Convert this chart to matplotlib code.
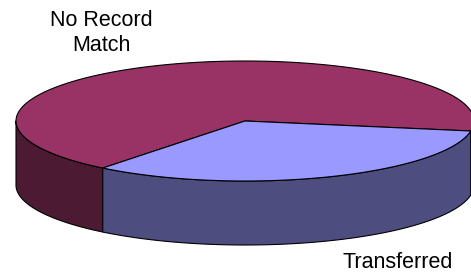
import numpy as np
import matplotlib.pyplot as plt
from matplotlib.patches import Polygon

# slice data
labels = ['No Record\nMatch', 'Transferred']
values = [67, 33]
top_colors = ['#993366', '#9999FF']
side_colors = ['#4D1A33', '#4D4D80']

# pie geometry in pixel space
cx, cy = 245, 121
rx, ry = 229, 60
depth = 64
start = -9.6  # degrees, counter-clockwise

plt.rcParams['font.family'] = ['Liberation Sans', 'DejaVu Sans']

fig = plt.figure(figsize=(4.71, 2.78), dpi=100)
ax = fig.add_axes([0, 0, 1, 1])
ax.set_xlim(0, 471)
ax.set_ylim(278, 0)
ax.axis('off')


def rim(t0, t1, dy=0, n=200):
    t = np.radians(np.linspace(t0, t1, n))
    return np.column_stack([cx + rx * np.cos(t), cy - ry * np.sin(t) + dy])


fracs = np.array(values) / np.sum(values)
edges = start + 360 * np.concatenate([[0], np.cumsum(fracs)])

# side walls (front half only: 180..360 deg)
for i in range(len(values)):
    t0, t1 = edges[i], edges[i + 1]
    for shift in (-360, 0, 360):
        a0, a1 = max(t0 + shift, 180), min(t1 + shift, 360)
        if a1 <= a0:
            continue
        top = rim(a0, a1)
        bot = rim(a0, a1, dy=depth)[::-1]
        ax.add_patch(Polygon(np.vstack([top, bot]), closed=True,
                             facecolor=side_colors[i], edgecolor='black',
                             linewidth=0.8, joinstyle='round'))

# top faces
for i in range(len(values)):
    arc = rim(edges[i], edges[i + 1])
    pts = np.vstack([[cx, cy], arc])
    ax.add_patch(Polygon(pts, closed=True, facecolor=top_colors[i],
                         edgecolor='black', linewidth=0.8, joinstyle='round'))

# labels
ax.text(101, 33, labels[0], ha='center', va='center', fontsize=15.5,
        linespacing=1.2)
ax.text(398, 263, labels[1], ha='center', va='center', fontsize=15.5)

fig.savefig('out.png', dpi=100)
